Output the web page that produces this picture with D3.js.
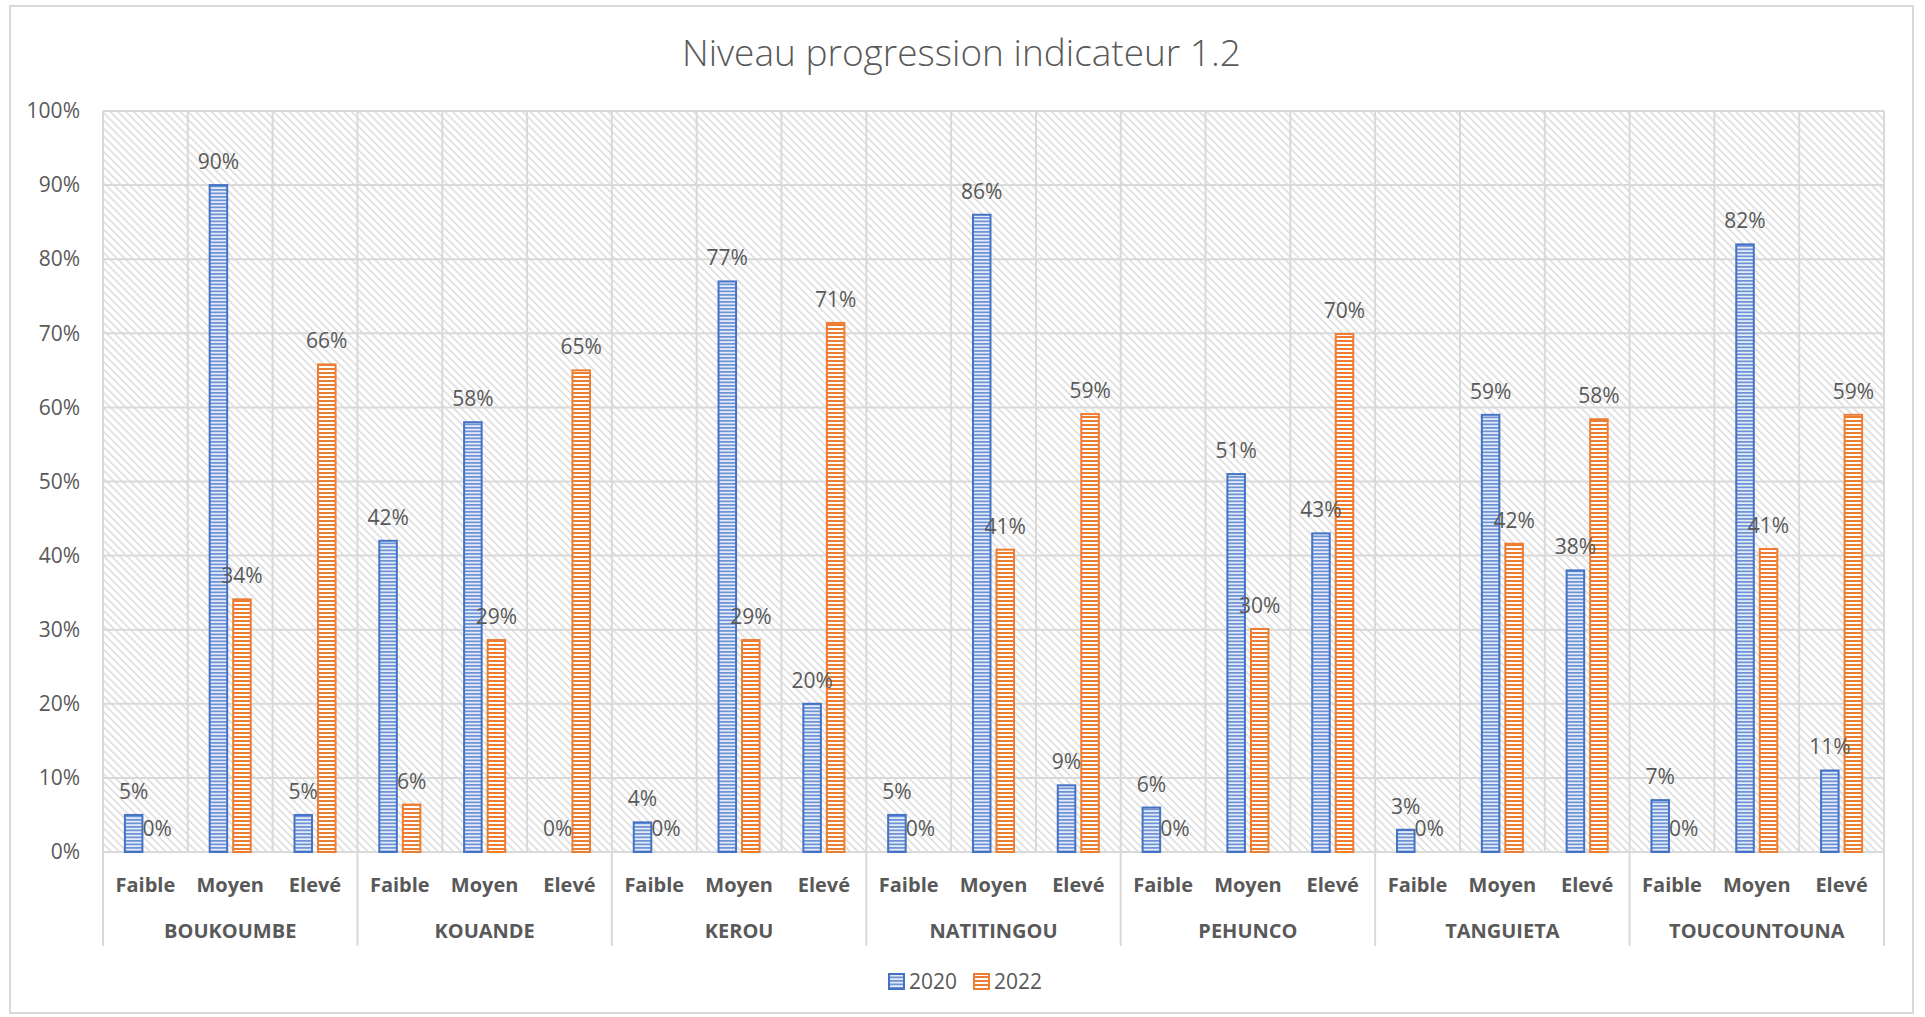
<!DOCTYPE html>
<html>
<head>
<meta charset="utf-8">
<script src="https://cdn.jsdelivr.net/npm/d3@7"></script>
<style>
  body { margin: 0; background: #fff; }
  text { font-family: "Open Sans", sans-serif; fill: #595959; }
</style>
</head>
<body>
<div id="chart"></div>
<script>
// data
const groups = ["BOUKOUMBE", "KOUANDE", "KEROU", "NATITINGOU", "PEHUNCO", "TANGUIETA", "TOUCOUNTOUNA"];
const levels = ["Faible", "Moyen", "Elevé"];
const seriesNames = ["2020", "2022"];
const values2020 = [5, 90, 5, 42, 58, 0, 4, 77, 20, 5, 86, 9, 6, 51, 43, 3, 59, 38, 7, 82, 11];
const values2022 = [0, 34.1, 65.8, 6.4, 28.6, 65, 0, 28.6, 71.4, 0, 40.8, 59.1, 0, 30.1, 69.9, 0, 41.6, 58.4, 0, 40.9, 59];
const yTicks = [0, 10, 20, 30, 40, 50, 60, 70, 80, 90, 100];
const title = "Niveau progression indicateur 1.2";

const width = 1925, height = 1017;
const frame = {x: 10, y: 6, w: 1903, h: 1007};
const plot = {left: 103, right: 1884, top: 111, bottom: 852};
const colors = {"2020": "#4472C4", "2022": "#ED7D31"};
const grid = "#d9d9d9";

// one entry per sub-category (group x level)
const cats = [];
groups.forEach(g => levels.forEach(l => cats.push({group: g, level: l, key: g + "|" + l})));

const svg = d3.select("#chart").append("svg")
    .attr("width", width)
    .attr("height", height)

const defs = svg.append("defs");

// diagonal hatch for plot area
const hatch = defs.append("pattern")
    .attr("id", "hatch")
    .attr("patternUnits", "userSpaceOnUse")
    .attr("width", 5.5).attr("height", 5.5)
    .attr("patternTransform", "rotate(45)");
hatch.append("rect").attr("width", 5.5).attr("height", 5.5).attr("fill", "#fff");
hatch.append("line").attr("x1", 0).attr("x2", 5.5).attr("y1", 1).attr("y2", 1)
    .attr("stroke", "#dadada").attr("stroke-width", 1.5);

// horizontal stripes for bars
function stripes(id, col, bg, h) {
  const p = defs.append("pattern")
      .attr("id", id)
      .attr("patternUnits", "userSpaceOnUse")
      .attr("width", 8).attr("height", h);
  p.append("rect").attr("width", 8).attr("height", h).attr("fill", bg);
  p.append("rect").attr("width", 8).attr("height", h / 2).attr("fill", col);
}
stripes("st2020", "#6d93d6", "#e4ebf7", 3.5);
stripes("st2022", "#ED7D31", "#ffffff", 4);

// scales
const x = d3.scaleBand()
    .domain(cats.map(d => d.key))
    .range([plot.left, plot.right]);

const xs = d3.scaleBand()
    .domain(seriesNames)
    .range([0, x.bandwidth()])
    .paddingInner(0.255)
    .paddingOuter(0.93);

const y = d3.scaleLinear()
    .domain([0, 100])
    .range([plot.bottom, plot.top]);

// outer border
svg.append("rect")
    .attr("x", frame.x).attr("y", frame.y)
    .attr("width", frame.w).attr("height", frame.h)
    .attr("fill", "none").attr("stroke", grid).attr("stroke-width", 2);

// title
svg.append("text")
    .attr("x", frame.x + frame.w / 2)
    .attr("y", 66)
    .attr("text-anchor", "middle")
    .style("font-size", "37px")
    .style("font-weight", 300)
    .text(title);

// plot background
svg.append("rect")
    .attr("x", plot.left).attr("y", plot.top)
    .attr("width", plot.right - plot.left).attr("height", plot.bottom - plot.top)
    .attr("fill", "url(#hatch)");

// gridlines
svg.append("g")
  .selectAll("line")
  .data(yTicks)
  .join("line")
    .attr("x1", plot.left).attr("x2", plot.right)
    .attr("y1", d => y(d)).attr("y2", d => y(d))
    .attr("stroke", grid).attr("stroke-width", 2);

svg.append("g")
  .selectAll("line")
  .data(cats.map(d => x(d.key)).concat([plot.right]))
  .join("line")
    .attr("x1", d => d).attr("x2", d => d)
    .attr("y1", plot.top).attr("y2", plot.bottom)
    .attr("stroke", grid).attr("stroke-width", 2);

// y axis labels
const yAxis = svg.append("g")
    .attr("transform", `translate(${plot.left - 23},0)`)
    .call(d3.axisLeft(y).tickValues(yTicks).tickSize(0).tickPadding(0).tickFormat(d => d + "%"));
yAxis.select(".domain").remove();
yAxis.selectAll("text")
    .style("font-size", "21px")
    .style("font-family", "Open Sans, sans-serif")
    .attr("fill", "#595959");

// category axis separators
const groupEdges = groups.map(g => x(g + "|" + levels[0])).concat([plot.right]);
svg.append("g")
  .selectAll("line")
  .data(groupEdges)
  .join("line")
    .attr("x1", d => d).attr("x2", d => d)
    .attr("y1", plot.bottom).attr("y2", 946)
    .attr("stroke", grid).attr("stroke-width", 2);

// level labels
svg.append("g")
  .selectAll("text")
  .data(cats)
  .join("text")
    .attr("x", d => x(d.key) + x.bandwidth() / 2)
    .attr("y", 892)
    .attr("text-anchor", "middle")
    .style("font-size", "20px")
    .style("font-weight", 700)
    .text(d => d.level);

// group labels
svg.append("g")
  .selectAll("text")
  .data(groups)
  .join("text")
    .attr("x", g => x(g + "|" + levels[1]) + x.bandwidth() / 2)
    .attr("y", 938)
    .attr("text-anchor", "middle")
    .style("font-size", "20px")
    .style("font-weight", 700)
    .text(g => g);

// bars
const barData = [];
cats.forEach((c, i) => {
  barData.push({key: c.key, s: "2020", v: values2020[i]});
  barData.push({key: c.key, s: "2022", v: values2022[i]});
});

svg.append("g")
  .selectAll("rect")
  .data(barData.filter(d => d.v > 0))
  .join("rect")
    .attr("x", d => x(d.key) + xs(d.s))
    .attr("y", d => y(d.v))
    .attr("width", xs.bandwidth())
    .attr("height", d => y(0) - y(d.v))
    .attr("fill", d => "url(#st" + d.s + ")")
    .attr("stroke", d => colors[d.s])
    .attr("stroke-width", 2);

// data labels
svg.append("g")
  .selectAll("text")
  .data(barData)
  .join("text")
    .attr("x", d => x(d.key) + xs(d.s) + xs.bandwidth() / 2)
    .attr("y", d => y(d.v) - 16)
    .attr("text-anchor", "middle")
    .style("font-size", "21px")
    .text(d => Math.round(d.v) + "%");

// legend
const legend = svg.append("g");
const legendX = {"2020": 889, "2022": 974};
seriesNames.forEach(s => {
  legend.append("rect")
      .attr("x", legendX[s]).attr("y", 974)
      .attr("width", 15).attr("height", 15)
      .attr("fill", "url(#st" + s + ")")
      .attr("stroke", colors[s]).attr("stroke-width", 2);
  legend.append("text")
      .attr("x", legendX[s] + 20).attr("y", 989)
      .style("font-size", "21px")
      .text(s);
});
</script>
</body>
</html>
